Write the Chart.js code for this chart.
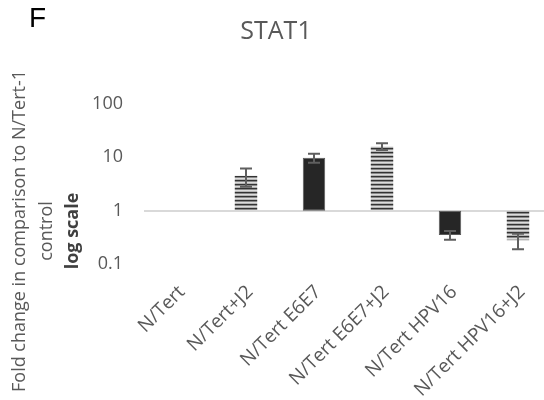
<!DOCTYPE html>
<html>
<head>
<meta charset="utf-8">
<script src="https://cdn.jsdelivr.net/npm/chart.js@4/dist/chart.umd.min.js"></script>
<style>
  html, body { margin: 0; padding: 0; background: #ffffff; overflow: hidden; }
  canvas { display: block; }
</style>
</head>
<body>
<canvas id="chart" width="552" height="400"></canvas>
<script>
// STAT1 expression, fold change relative to N/Tert-1 control (log axis)
const categories = ['N/Tert', 'N/Tert+J2', 'N/Tert E6E7', 'N/Tert E6E7+J2', 'N/Tert HPV16', 'N/Tert HPV16+J2'];
const foldChange = [1, 4.5, 9.8, 16, 0.35, 0.28];
const errorSize = [0, 1.7, 1.9, 2.3, 0.065, 0.09];
const yTickValues = [0.1, 1, 10, 100];

const TEXT = '#595959';
const FONT = "'Open Sans', sans-serif";

// horizontal stripe fill for the co-culture (+J2) conditions
function stripeFill() {
  const c = document.createElement('canvas');
  c.width = 4; c.height = 4;
  const g = c.getContext('2d');
  const rows = ['#333333', '#8a8a8a', '#dcdcdc', '#b5b5b5'];
  rows.forEach((col, i) => { g.fillStyle = col; g.fillRect(0, i, 4, 1); });
  return g.createPattern(c, 'repeat');
}
const stripes = stripeFill();
const withFeeder = categories.map(c => c.includes('+J2'));

// error bars drawn through the value scale
const errorBars = {
  id: 'errorBars',
  afterDatasetsDraw(chart) {
    const { ctx, scales: { y } } = chart;
    const meta = chart.getDatasetMeta(0);
    ctx.save();
    ctx.strokeStyle = '#5f5f5f';
    ctx.lineWidth = 2;
    meta.data.forEach((bar, i) => {
      const e = errorSize[i];
      if (!e) return;
      const v = foldChange[i];
      const yt = y.getPixelForValue(v + e);
      const yb = y.getPixelForValue(v - e);
      const half = 6;
      ctx.beginPath();
      ctx.moveTo(bar.x, yt); ctx.lineTo(bar.x, yb);
      ctx.moveTo(bar.x - half, yt); ctx.lineTo(bar.x + half, yt);
      ctx.moveTo(bar.x - half, yb); ctx.lineTo(bar.x + half, yb);
      ctx.stroke();
    });
    ctx.restore();
  }
};

// panel letter and the two-part value-axis caption
const captions = {
  id: 'captions',
  afterDraw(chart) {
    const ctx = chart.ctx;
    ctx.save();
    ctx.fillStyle = '#000000';
    ctx.font = "28px 'Liberation Sans', Arial, sans-serif";
    ctx.textAlign = 'left';
    ctx.textBaseline = 'alphabetic';
    ctx.fillText('F', 29, 27);

    const yc = 231;
    const lines = [
      { text: 'Fold change in comparison to N/Tert-1', x: 20, font: '18px ' + FONT, color: TEXT },
      { text: 'control', x: 47, font: '18px ' + FONT, color: TEXT },
      { text: 'log scale', x: 73, font: 'bold 18px ' + FONT, color: '#404040' }
    ];
    lines.forEach(l => {
      ctx.save();
      ctx.translate(l.x, yc);
      ctx.rotate(-Math.PI / 2);
      ctx.font = l.font;
      ctx.fillStyle = l.color;
      ctx.textAlign = 'center';
      ctx.textBaseline = 'middle';
      ctx.fillText(l.text, 0, 0);
      ctx.restore();
    });
    ctx.restore();
  }
};

new Chart(document.getElementById('chart'), {
  type: 'bar',
  data: {
    labels: categories,
    datasets: [{
      data: foldChange.map(v => [1, v]),
      backgroundColor: withFeeder.map(f => f ? stripes : '#262626'),
      borderColor: withFeeder.map(f => f ? 'rgba(0,0,0,0)' : '#5a5a5a'),
      borderWidth: withFeeder.map(f => f ? 0 : 1),
      borderSkipped: false,
      barPercentage: 0.33,
      categoryPercentage: 1
    }]
  },
  options: {
    responsive: false,
    animation: false,
    devicePixelRatio: 1,
    layout: { padding: 0 },
    plugins: {
      legend: { display: false },
      tooltip: { enabled: false },
      title: {
        display: true,
        text: 'STAT1',
        color: TEXT,
        font: { family: FONT, size: 25, weight: 'normal' },
        padding: { top: 17, bottom: 57 }
      }
    },
    scales: {
      x: {
        grid: { display: false, drawTicks: false },
        border: { display: false },
        ticks: {
          color: TEXT,
          font: { family: FONT, size: 19 },
          minRotation: 45,
          maxRotation: 45,
          autoSkip: false,
          padding: 17,
          labelOffset: 4
        },
        afterFit(s) { s.height = 136; }
      },
      y: {
        type: 'logarithmic',
        min: 0.1,
        max: 100,
        border: { display: false },
        grid: {
          drawTicks: false,
          lineWidth: 2,
          color: c => (c.tick && c.tick.value === 1) ? '#d9d9d9' : 'rgba(0,0,0,0)'
        },
        afterBuildTicks(s) { s.ticks = yTickValues.map(v => ({ value: v })); },
        ticks: {
          color: TEXT,
          font: { family: FONT, size: 18 },
          padding: 21,
          callback: v => String(v)
        },
        afterFit(s) { s.width = 144; }
      }
    }
  },
  plugins: [errorBars, captions]
});
</script>
</body>
</html>
